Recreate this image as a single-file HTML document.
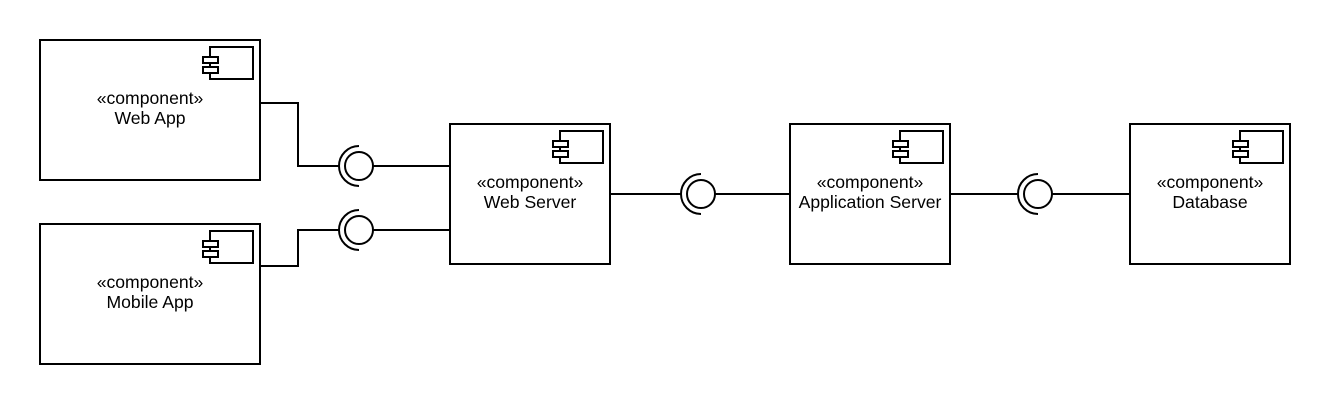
<!DOCTYPE html>
<html><head><meta charset="utf-8"><style>
html,body{margin:0;padding:0;background:#fff;}
svg text{font-family:"Liberation Sans",Arial,sans-serif;font-size:17.6px;fill:#000;}
</style></head><body>
<svg width="1330" height="404" viewBox="0 0 1330 404" xmlns="http://www.w3.org/2000/svg">
<defs>
<g id="icon" fill="#fff" stroke="#000" stroke-width="2">
<rect x="-50" y="7" width="43" height="32"/>
<rect x="-57" y="17" width="15" height="6"/>
<rect x="-57" y="27" width="15" height="6"/>
</g>
<g id="sock" fill="none" stroke="#000" stroke-width="2">
<circle cx="0" cy="0" r="14" fill="#fff"/>
<path d="M0,-20 A20,20 0 0 0 0,20"/>
</g>
</defs>
<g fill="#fff" stroke="#000" stroke-width="2">
<rect x="40" y="40" width="220" height="140"/>
<rect x="40" y="224" width="220" height="140"/>
<rect x="450" y="124" width="160" height="140"/>
<rect x="790" y="124" width="160" height="140"/>
<rect x="1130" y="124" width="160" height="140"/>
</g>
<use href="#icon" x="260" y="40"/>
<use href="#icon" x="260" y="224"/>
<use href="#icon" x="610" y="124"/>
<use href="#icon" x="950" y="124"/>
<use href="#icon" x="1290" y="124"/>
<g fill="none" stroke="#000" stroke-width="2">
<path d="M260,103 H298 V166 H340"/>
<path d="M373,166 H450"/>
<path d="M260,266 H298 V230 H340"/>
<path d="M373,230 H450"/>
<path d="M610,194 H681"/>
<path d="M715,194 H790"/>
<path d="M950,194 H1019"/>
<path d="M1052,194 H1130"/>
</g>
<use href="#sock" x="359" y="166"/>
<use href="#sock" x="359" y="230"/>
<use href="#sock" x="701" y="194"/>
<use href="#sock" x="1038" y="194"/>
<g text-anchor="middle">
<text x="150" y="104">«component»</text><text x="150" y="124">Web App</text>
<text x="150" y="288">«component»</text><text x="150" y="308">Mobile App</text>
<text x="530" y="188">«component»</text><text x="530" y="208">Web Server</text>
<text x="870" y="188">«component»</text><text x="870" y="208">Application Server</text>
<text x="1210" y="188">«component»</text><text x="1210" y="208">Database</text>
</g>
</svg>
</body></html>
